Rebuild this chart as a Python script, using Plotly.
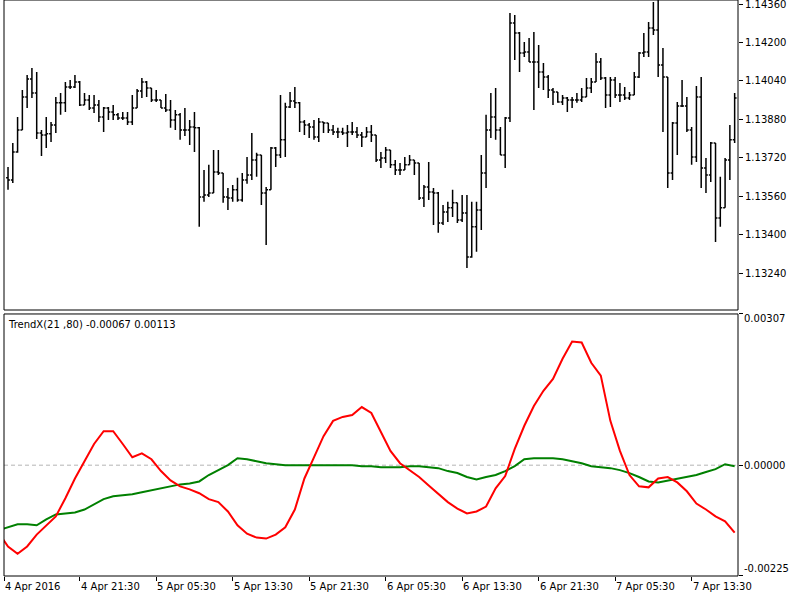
import plotly.graph_objects as go

# ---------------- data (EURUSD M30, 4 Apr 14:00 -> 7 Apr 18:00) ----------------
bars = list(range(1, 154))

opens = [1.13637, 1.13628, 1.13745, 1.13836, 1.13973, 1.14048, 1.13990, 1.13824, 1.13815, 1.13820,
         1.13857, 1.13949, 1.13949, 1.14015, 1.14015, 1.14036, 1.13940, 1.13961, 1.13928, 1.13940,
         1.13890, 1.13928, 1.13911, 1.13899, 1.13886, 1.13886, 1.13869, 1.13928, 1.13998, 1.14036,
         1.14011, 1.13961, 1.13961, 1.13928, 1.13919, 1.13878, 1.13899, 1.13836, 1.13836, 1.13849,
         1.13845, 1.13557, 1.13566, 1.13574, 1.13661, 1.13657, 1.13557, 1.13553, 1.13587, 1.13545,
         1.13628, 1.13649, 1.13711, 1.13732, 1.13574, 1.13587, 1.13761, 1.13732, 1.13795, 1.13932,
         1.13957, 1.13949, 1.13869, 1.13857, 1.13849, 1.13807, 1.13869, 1.13865, 1.13836, 1.13828,
         1.13828, 1.13824, 1.13828, 1.13828, 1.13815, 1.13807, 1.13828, 1.13815, 1.13711, 1.13720,
         1.13753, 1.13691, 1.13670, 1.13670, 1.13691, 1.13711, 1.13699, 1.13553, 1.13599, 1.13578,
         1.13574, 1.13449, 1.13495, 1.13512, 1.13533, 1.13462, 1.13491, 1.13308, 1.13433, 1.13503,
         1.13657, 1.13836, 1.13890, 1.13836, 1.13732, 1.13886, 1.14281, 1.14240, 1.14156, 1.14161,
         1.14119, 1.14119, 1.14077, 1.14057, 1.14003, 1.13994, 1.13953, 1.13969, 1.13961, 1.13961,
         1.13961, 1.13973, 1.14011, 1.14036, 1.14119, 1.14052, 1.13982, 1.14044, 1.13982, 1.13982,
         1.13969, 1.13982, 1.14057, 1.14156, 1.14161, 1.14260, 1.14252, 1.14107, 1.14057, 1.13657,
         1.13865, 1.13936, 1.13936, 1.13836, 1.13724, 1.13973, 1.13678, 1.13649, 1.13782, 1.13470,
         1.13512, 1.13711, 1.13795]

highs = [1.13682, 1.13782, 1.13890, 1.14003, 1.14065, 1.14094, 1.14077, 1.13836, 1.13890, 1.13869,
         1.13973, 1.13990, 1.14036, 1.14044, 1.14065, 1.14040, 1.13990, 1.13982, 1.13982, 1.13961,
         1.13932, 1.13932, 1.13940, 1.13907, 1.13911, 1.13911, 1.13982, 1.14007, 1.14052, 1.14040,
         1.14011, 1.14003, 1.13961, 1.13986, 1.13961, 1.13919, 1.13907, 1.13928, 1.13878, 1.13911,
         1.13849, 1.13670, 1.13691, 1.13753, 1.13753, 1.13657, 1.13595, 1.13607, 1.13637, 1.13657,
         1.13724, 1.13824, 1.13741, 1.13732, 1.13599, 1.13765, 1.13765, 1.13982, 1.13949, 1.13994,
         1.14015, 1.13953, 1.13878, 1.13865, 1.13878, 1.13886, 1.13869, 1.13865, 1.13857, 1.13845,
         1.13845, 1.13857, 1.13869, 1.13849, 1.13828, 1.13849, 1.13857, 1.13815, 1.13745, 1.13765,
         1.13753, 1.13711, 1.13699, 1.13724, 1.13732, 1.13711, 1.13699, 1.13607, 1.13703, 1.13595,
         1.13578, 1.13524, 1.13537, 1.13587, 1.13533, 1.13566, 1.13566, 1.13537, 1.13537, 1.13732,
         1.13899, 1.13990, 1.14011, 1.13849, 1.13890, 1.14323, 1.14315, 1.14244, 1.14202, 1.14219,
         1.14244, 1.14190, 1.14115, 1.14065, 1.14011, 1.13994, 1.13982, 1.13973, 1.13973, 1.13990,
         1.14011, 1.14052, 1.14052, 1.14156, 1.14136, 1.14057, 1.14057, 1.14057, 1.14032, 1.14015,
         1.13994, 1.14077, 1.14161, 1.14240, 1.14285, 1.14369, 1.14377, 1.14177, 1.14057, 1.13869,
         1.13953, 1.14044, 1.13973, 1.13849, 1.14019, 1.14057, 1.13720, 1.13786, 1.13782, 1.13641,
         1.13720, 1.13857, 1.13990]

lows = [1.13587, 1.13616, 1.13741, 1.13836, 1.13928, 1.13969, 1.13799, 1.13728, 1.13761, 1.13786,
        1.13824, 1.13899, 1.13911, 1.14007, 1.14011, 1.13936, 1.13940, 1.13919, 1.13907, 1.13869,
        1.13828, 1.13878, 1.13878, 1.13878, 1.13878, 1.13857, 1.13857, 1.13928, 1.13969, 1.13973,
        1.13953, 1.13953, 1.13928, 1.13911, 1.13845, 1.13836, 1.13795, 1.13811, 1.13774, 1.13745,
        1.13433, 1.13537, 1.13557, 1.13574, 1.13649, 1.13533, 1.13503, 1.13537, 1.13537, 1.13537,
        1.13612, 1.13628, 1.13641, 1.13524, 1.13358, 1.13587, 1.13682, 1.13720, 1.13724, 1.13928,
        1.13928, 1.13828, 1.13815, 1.13803, 1.13795, 1.13786, 1.13824, 1.13824, 1.13815, 1.13803,
        1.13815, 1.13765, 1.13815, 1.13803, 1.13765, 1.13807, 1.13786, 1.13703, 1.13678, 1.13699,
        1.13678, 1.13649, 1.13649, 1.13670, 1.13691, 1.13649, 1.13545, 1.13516, 1.13545, 1.13441,
        1.13408, 1.13441, 1.13453, 1.13474, 1.13449, 1.13453, 1.13262, 1.13304, 1.13329, 1.13420,
        1.13595, 1.13803, 1.13795, 1.13732, 1.13678, 1.13869, 1.14127, 1.14077, 1.14140, 1.14119,
        1.13919, 1.14011, 1.14003, 1.13969, 1.13940, 1.13949, 1.13940, 1.13911, 1.13928, 1.13949,
        1.13953, 1.13973, 1.13990, 1.14036, 1.14044, 1.13928, 1.13932, 1.13969, 1.13953, 1.13961,
        1.13961, 1.13982, 1.14052, 1.14140, 1.14140, 1.14231, 1.14057, 1.13828, 1.13595, 1.13628,
        1.13732, 1.13932, 1.13828, 1.13691, 1.13703, 1.13595, 1.13574, 1.13620, 1.13370, 1.13433,
        1.13512, 1.13628, 1.13782]

closes = [1.13628, 1.13745, 1.13836, 1.13973, 1.14048, 1.13990, 1.13824, 1.13815, 1.13820, 1.13857,
          1.13949, 1.13949, 1.14015, 1.14015, 1.14036, 1.13940, 1.13961, 1.13928, 1.13940, 1.13890,
          1.13928, 1.13911, 1.13899, 1.13886, 1.13886, 1.13869, 1.13928, 1.13998, 1.14036, 1.14011,
          1.13961, 1.13961, 1.13928, 1.13919, 1.13878, 1.13899, 1.13836, 1.13836, 1.13849, 1.13845,
          1.13557, 1.13566, 1.13574, 1.13661, 1.13657, 1.13557, 1.13553, 1.13587, 1.13545, 1.13628,
          1.13649, 1.13711, 1.13732, 1.13574, 1.13587, 1.13761, 1.13732, 1.13795, 1.13932, 1.13957,
          1.13949, 1.13869, 1.13857, 1.13849, 1.13807, 1.13869, 1.13865, 1.13836, 1.13828, 1.13828,
          1.13824, 1.13828, 1.13828, 1.13815, 1.13807, 1.13828, 1.13815, 1.13711, 1.13720, 1.13753,
          1.13691, 1.13670, 1.13670, 1.13691, 1.13711, 1.13699, 1.13553, 1.13599, 1.13578, 1.13574,
          1.13449, 1.13495, 1.13512, 1.13533, 1.13462, 1.13491, 1.13308, 1.13433, 1.13503, 1.13657,
          1.13836, 1.13890, 1.13836, 1.13732, 1.13886, 1.14281, 1.14240, 1.14156, 1.14161, 1.14119,
          1.14119, 1.14077, 1.14057, 1.14003, 1.13994, 1.13953, 1.13969, 1.13961, 1.13961, 1.13961,
          1.13973, 1.14011, 1.14036, 1.14119, 1.14052, 1.13982, 1.14044, 1.13982, 1.13982, 1.13969,
          1.13982, 1.14057, 1.14156, 1.14161, 1.14260, 1.14252, 1.14107, 1.14057, 1.13657, 1.13865,
          1.13936, 1.13936, 1.13836, 1.13724, 1.13973, 1.13678, 1.13649, 1.13782, 1.13470, 1.13512,
          1.13711, 1.13795, 1.13969]

# TrendX(21,80) indicator, read at every second bar
ind_bars = [0] + list(range(1, 154, 2))
trendx_main = [-0.00151, -0.00165, -0.00180, -0.00165, -0.00141, -0.00122, -0.00104, -0.00067, -0.00027, 0.00008,
               0.00043, 0.00069, 0.00069, 0.00043, 0.00016, 0.00024, 0.00012, -0.00012, -0.00031, -0.00043,
               -0.00049, -0.00057, -0.00069, -0.00075, -0.00094, -0.00122, -0.00139, -0.00147, -0.00149, -0.00141,
               -0.00126, -0.00090, -0.00027, 0.00016, 0.00059, 0.00090, 0.00098, 0.00102, 0.00118, 0.00106,
               0.00069, 0.00029, 0.00004, -0.00010, -0.00024, -0.00041, -0.00059, -0.00075, -0.00088, -0.00098,
               -0.00094, -0.00084, -0.00047, -0.00022, 0.00033, 0.00080, 0.00120, 0.00151, 0.00175, 0.00216,
               0.00251, 0.00249, 0.00208, 0.00182, 0.00090, 0.00029, -0.00020, -0.00043, -0.00045, -0.00027,
               -0.00024, -0.00035, -0.00053, -0.00078, -0.00090, -0.00104, -0.00114, -0.00137]
trendx_signal = [-0.00129, -0.00126, -0.00120, -0.00120, -0.00122, -0.00110, -0.00100, -0.00098, -0.00096, -0.00090,
                 -0.00080, -0.00069, -0.00063, -0.00061, -0.00059, -0.00055, -0.00051, -0.00047, -0.00043, -0.00039,
                 -0.00037, -0.00033, -0.00020, -0.00010, 0.00000, 0.00014, 0.00012, 0.00008, 0.00004, 0.00002,
                 0.00000, 0.00000, 0.00000, 0.00000, 0.00000, 0.00000, 0.00000, 0.00000, -0.00002, -0.00002,
                 -0.00004, -0.00004, -0.00004, -0.00002, -0.00002, -0.00004, -0.00006, -0.00012, -0.00016, -0.00024,
                 -0.00029, -0.00024, -0.00020, -0.00012, -0.00002, 0.00012, 0.00014, 0.00014, 0.00014, 0.00012,
                 0.00008, 0.00004, -0.00002, -0.00004, -0.00006, -0.00010, -0.00016, -0.00024, -0.00033, -0.00035,
                 -0.00031, -0.00027, -0.00024, -0.00020, -0.00014, -0.00008, 0.00002, -0.00002]

price_ticks = [1.14360, 1.14200, 1.14040, 1.13880, 1.13720, 1.13560, 1.13400, 1.13240]
ind_ticks = [0.00307, 0.00000, -0.00225]
ind_tick_text = ["0.00307", "0.00000", "-0.00225"]
time_labels = ["4 Apr 2016", "4 Apr 21:30", "5 Apr 05:30", "5 Apr 13:30", "5 Apr 21:30",
               "6 Apr 05:30", "6 Apr 13:30", "6 Apr 21:30", "7 Apr 05:30", "7 Apr 13:30"]
indicator_title = "TrendX(21 ,80) -0.00067 0.00113"

# ---------------- layout settings ----------------
X_RANGE = [0.16, 153.7]
time_label_bars = [X_RANGE[0], 16, 32, 48, 64, 80, 96, 112, 128, 144]
PRICE_RANGE = [1.13087, 1.14377]
IND_RANGE = [-0.00225, 0.00307]
TOP_DOMAIN = [0.4618, 1.0]
BOT_DOMAIN = [0.0, 0.4549]
FONT = "DejaVu Sans"

fig = go.Figure()
fig.add_trace(go.Ohlc(
    x=bars, open=opens, high=highs, low=lows, close=closes,
    increasing=dict(line=dict(color="#000000", width=1.5)),
    decreasing=dict(line=dict(color="#000000", width=1.5)),
    tickwidth=0.4, xaxis="x", yaxis="y", hoverinfo="skip", showlegend=False))
fig.add_trace(go.Scatter(
    x=ind_bars, y=trendx_signal, mode="lines", line=dict(color="#008000", width=2),
    xaxis="x2", yaxis="y2", hoverinfo="skip", showlegend=False))
fig.add_trace(go.Scatter(
    x=ind_bars, y=trendx_main, mode="lines", line=dict(color="#ff0000", width=2),
    xaxis="x2", yaxis="y2", hoverinfo="skip", showlegend=False))

fig.update_layout(
    width=800, height=600,
    margin=dict(l=4, r=62, t=0, b=24, pad=0),
    paper_bgcolor="white", plot_bgcolor="white",
    font=dict(family=FONT, size=10, color="black"),
    showlegend=False,
    xaxis=dict(domain=[0, 1], anchor="y", range=X_RANGE, showticklabels=False, ticks="",
               showgrid=False, zeroline=False, showline=False, rangeslider=dict(visible=False)),
    yaxis=dict(domain=TOP_DOMAIN, anchor="x", side="right", range=PRICE_RANGE,
               tickvals=price_ticks, ticktext=[f"{v:.5f}" for v in price_ticks],
               ticks="outside", ticklen=4, tickcolor="black", tickwidth=1,
               ticklabeloverflow="allow",
               showgrid=False, zeroline=False, showline=False,
               tickfont=dict(family=FONT, size=10, color="black")),
    xaxis2=dict(domain=[0, 1], anchor="y2", range=X_RANGE, tickvals=time_label_bars,
                ticktext=[""] * len(time_label_bars), ticks="outside", ticklen=4,
                tickcolor="black", showgrid=False, zeroline=False, showline=False,
                rangeslider=dict(visible=False)),
    yaxis2=dict(domain=BOT_DOMAIN, anchor="x2", side="right", range=IND_RANGE,
                tickvals=ind_ticks, showticklabels=False, ticks="outside", ticklen=4,
                tickcolor="black", showgrid=False, zeroline=False, showline=False),
)

shapes = [
    dict(type="rect", xref="paper", yref="paper", x0=0, x1=1, y0=TOP_DOMAIN[0], y1=TOP_DOMAIN[1],
         line=dict(color="black", width=1), layer="above"),
    dict(type="rect", xref="paper", yref="paper", x0=0, x1=1, y0=BOT_DOMAIN[0], y1=BOT_DOMAIN[1],
         line=dict(color="black", width=1), layer="above"),
    dict(type="line", xref="paper", yref="y2", x0=0, x1=1, y0=0, y1=0,
         line=dict(color="#b4b4b4", width=1, dash="4px,3px"), layer="below"),
]
fig.update_layout(shapes=shapes)

annotations = [
    dict(text=indicator_title, xref="paper", yref="paper", x=0, y=BOT_DOMAIN[1],
         xanchor="left", yanchor="top", xshift=2, yshift=-3, showarrow=False,
         font=dict(family=FONT, size=10, color="black")),
]
for lbl, b in zip(time_labels, time_label_bars):
    annotations.append(dict(text=lbl, xref="x2", yref="paper", x=b, y=0, xanchor="left",
                            yanchor="top", yshift=-3, xshift=-1, showarrow=False,
                            font=dict(family=FONT, size=10, color="black")))
shifts = [-5, 0, 7]
for v, t, s in zip(ind_ticks, ind_tick_text, shifts):
    annotations.append(dict(text=t, xref="paper", yref="y2", x=1, y=v, xanchor="left",
                            yanchor="middle", xshift=4, yshift=s, showarrow=False,
                            font=dict(family=FONT, size=10, color="black")))
fig.update_layout(annotations=annotations)

fig.write_html("out.html")
